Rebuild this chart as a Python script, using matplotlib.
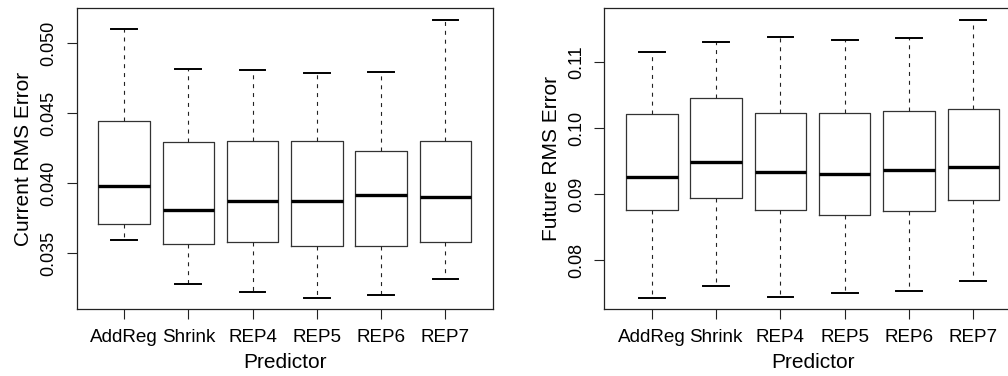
import numpy as np
import matplotlib
matplotlib.use("Agg")
import matplotlib.pyplot as plt

plt.rcParams['font.family'] = ['Liberation Sans', 'DejaVu Sans']

predictors = ["AddReg", "Shrink", "REP4", "REP5", "REP6", "REP7"]

# current RMS error: lower whisker, Q1, median, Q3, upper whisker
cur_low = [0.03591, 0.03276, 0.03221, 0.03181, 0.03202, 0.03314]
cur_q1 = [0.03705, 0.03567, 0.03579, 0.03552, 0.03552, 0.03576]
cur_med = [0.03981, 0.03810, 0.03874, 0.03869, 0.03917, 0.03898]
cur_q3 = [0.04441, 0.04293, 0.04302, 0.04302, 0.04231, 0.04302]
cur_high = [0.05102, 0.04814, 0.04805, 0.04788, 0.04795, 0.05167]

# future RMS error
fut_low = [0.07434, 0.07616, 0.07449, 0.07510, 0.07540, 0.07692]
fut_q1 = [0.08763, 0.08939, 0.08758, 0.08682, 0.08753, 0.08914]
fut_med = [0.09263, 0.09495, 0.09343, 0.09303, 0.09364, 0.09414]
fut_q3 = [0.10222, 0.10455, 0.10237, 0.10237, 0.10268, 0.10293]
fut_high = [0.11162, 0.11308, 0.11389, 0.11343, 0.11374, 0.11646]

cur_ticks = [0.035, 0.040, 0.045, 0.050]
fut_ticks = [0.08, 0.09, 0.10, 0.11]


def make_stats(low, q1, med, q3, high):
    out = []
    for i in range(len(low)):
        out.append({"whislo": low[i], "q1": q1[i], "med": med[i],
                    "q3": q3[i], "whishi": high[i], "fliers": []})
    return out


def draw(ax, stats, ylabel, ticks, fmt, ylim):
    pos = np.arange(1, len(predictors) + 1)
    ax.bxp(stats, positions=pos, widths=0.8, capwidths=0.4, showfliers=False,
           boxprops=dict(color="#333333", linewidth=0.9),
           whiskerprops=dict(color="#222222", linewidth=0.8, linestyle=(0, (3.6, 4.4))),
           capprops=dict(color="black", linewidth=1.4),
           medianprops=dict(color="black", linewidth=2.4))
    ax.set_xlim(0.26, 6.74)
    ax.set_ylim(*ylim)
    ax.set_xticks(pos)
    ax.set_xticklabels(predictors, fontsize=13.6)
    ax.set_yticks(ticks)
    ax.set_yticklabels([fmt % t for t in ticks], fontsize=13, rotation=90, va="center")
    ax.tick_params(axis="both", length=7, width=0.8, color="#222222", pad=7)
    ax.set_xlabel("Predictor", fontsize=15, labelpad=5)
    ax.set_ylabel(ylabel, fontsize=15, labelpad=5)
    for s in ax.spines.values():
        s.set_linewidth(0.9)
        s.set_color("#222222")


fig = plt.figure(figsize=(10.08, 3.76), dpi=100)
ax1 = fig.add_axes([76.5 / 1008, 0.1774, 416.5 / 1008, 0.8005])
ax2 = fig.add_axes([604.3 / 1008, 0.1774, 416.5 / 1008, 0.8005])

draw(ax1, make_stats(cur_low, cur_q1, cur_med, cur_q3, cur_high),
     "Current RMS Error", cur_ticks, "%.3f", (0.03098, 0.05248))
draw(ax2, make_stats(fut_low, fut_q1, fut_med, fut_q3, fut_high),
     "Future RMS Error", fut_ticks, "%.2f", (0.07258, 0.11819))

fig.savefig("out.png", dpi=100)
